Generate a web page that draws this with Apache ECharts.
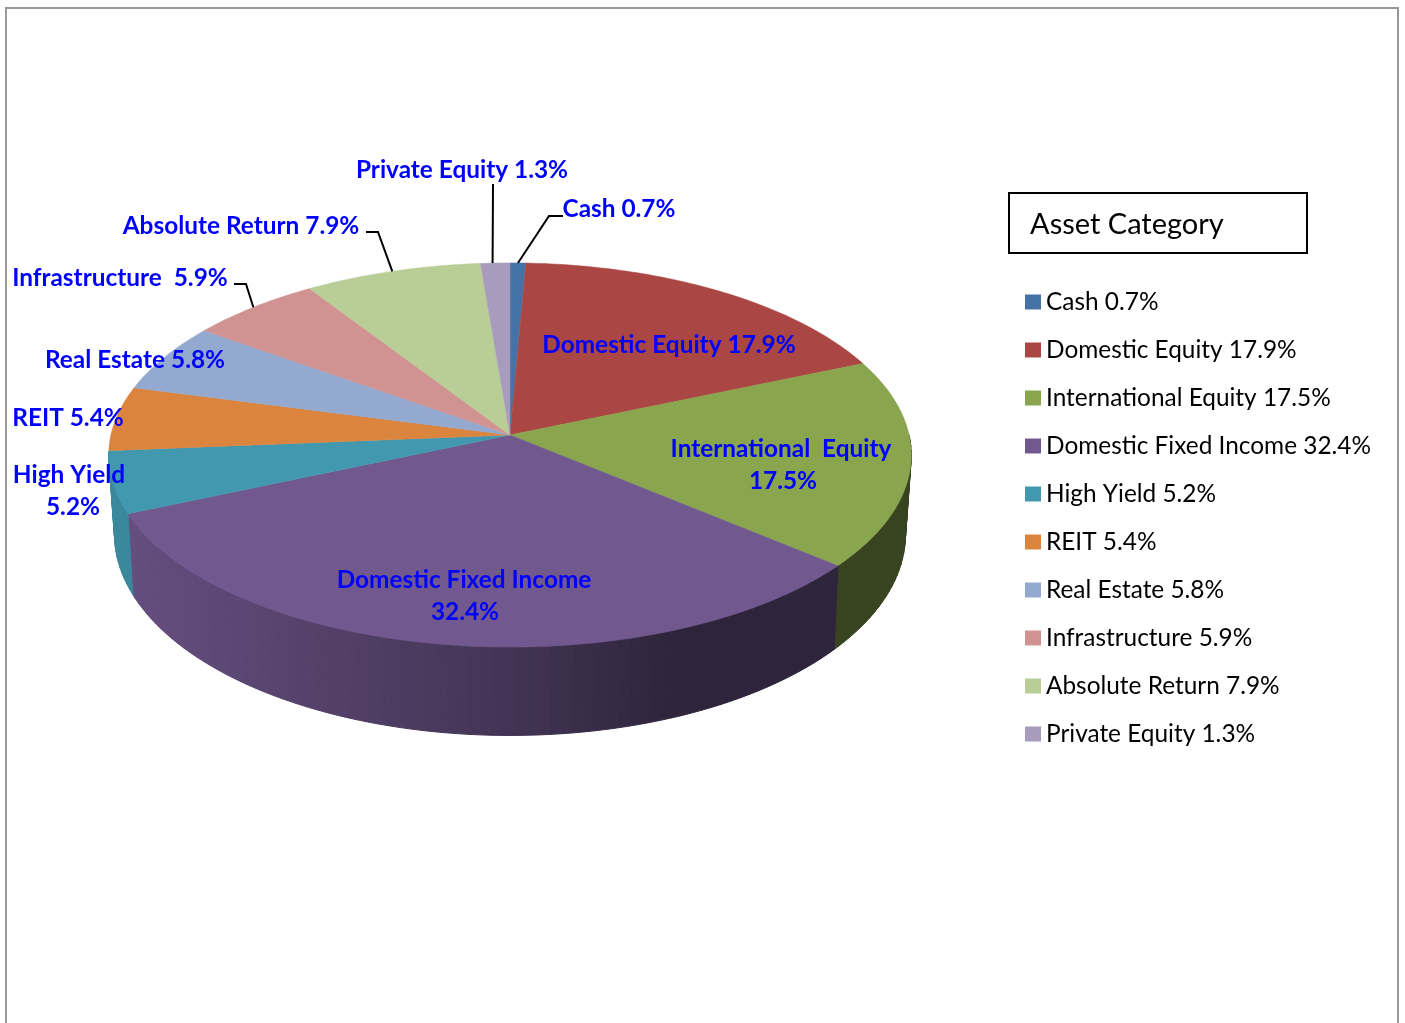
<!DOCTYPE html>
<html>
<head>
<meta charset="utf-8">
<style>
  html, body { margin: 0; padding: 0; background: #fff; overflow: hidden; }
  #chart { width: 1405px; height: 1023px; }
</style>
<script src="https://cdn.jsdelivr.net/npm/echarts@6/dist/echarts.min.js"></script>
</head>
<body>
<div id="chart"></div>
<script>
var categories = ['Cash', 'Domestic Equity', 'International Equity', 'Domestic Fixed Income', 'High Yield',
  'REIT', 'Real Estate', 'Infrastructure', 'Absolute Return', 'Private Equity'];
var shares = [0.7, 17.9, 17.5, 32.4, 5.2, 5.4, 5.8, 5.9, 7.9, 1.3];
var colors = ['#4572A7', '#AA4643', '#89A54E', '#71588F', '#4198AF',
  '#DB843D', '#93A9CF', '#D19392', '#B9CD96', '#A99BBD'];

// label placement in page pixels, one entry per category: text lines with their centres, plus leader elbow
var labelLayout = [
  { lines: [[null, 619, 209]], leader: [[563, 216], [549, 216]] },
  { lines: [[null, 669, 345]] },
  { lines: [['International  Equity', 781, 449], ['17.5%', 783, 481]] },
  { lines: [['Domestic Fixed Income', 464, 580], ['32.4%', 465, 612]] },
  { lines: [['High Yield', 69, 475], ['5.2%', 73, 507]] },
  { lines: [['REIT 5.4%', 68, 418]] },
  { lines: [[null, 135, 360]] },
  { lines: [['Infrastructure  5.9%', 120, 278]], leader: [[234, 284], [246, 284]] },
  { lines: [[null, 241, 226]], leader: [[366, 232], [378, 232]] },
  { lines: [[null, 462, 170]], leader: [[493, 184]], rimAt: 0.41 }
];

var LABEL_FONT = 'bold 24.4px Lato';

// perspective of the disc: top rim and bottom rim, in axis units
function topRim(deg) {
  var t = deg * Math.PI / 180, u = Math.sin(t), v = -Math.cos(t), w = 1 - 0.104 * v;
  return [u / w, v / w];
}
function bottomRim(deg) {
  var t = deg * Math.PI / 180, u = Math.sin(t), v = -Math.cos(t), w = 1 - 0.11 * v;
  return [0.985 * u / w, 0.405 + 1.047 * v / w];
}

function shade(hex, x) {
  // side wall gets darker from left to right
  var m = x < 0 ? 0.6 - 0.3 * x : Math.max(0.41, 0.6 - 0.45 * x);
  var n = parseInt(hex.slice(1), 16);
  return 'rgb(' + Math.round((n >> 16) * m) + ',' + Math.round(((n >> 8) & 255) * m) + ',' + Math.round((n & 255) * m) + ')';
}

var total = shares.reduce(function (a, b) { return a + b; }, 0);
var startAngles = [];
shares.reduce(function (sum, s, i) { startAngles[i] = sum / total * 360; return sum + s; }, 0);

function renderSlice(i, api) {
  var start = startAngles[i], end = start + shares[i] / total * 360;
  var children = [];

  // side wall, only the part that faces the viewer
  var from = Math.max(start, 90), to = Math.min(end, 265);
  for (var a = from; a < to; a += 1.5) {
    var b = Math.min(a + 1.5, to);
    var p = topRim(a);
    var color = shade(colors[i], p[0]);
    children.push({
      type: 'polygon', z2: 1, silent: true,
      shape: { points: [api.coord(topRim(a)), api.coord(topRim(b)), api.coord(bottomRim(b)), api.coord(bottomRim(a))] },
      style: { fill: color, stroke: color, lineWidth: 1 }
    });
  }

  // top face
  var pts = [api.coord([0, 0])];
  for (var d = start; d < end; d += 1) pts.push(api.coord(topRim(d)));
  pts.push(api.coord(topRim(end)));
  children.push({
    type: 'polygon', z2: 2,
    shape: { points: pts },
    style: { fill: colors[i], stroke: colors[i], lineWidth: 0.5 }
  });

  // leader line ends on the rim, by default at the middle of the slice
  var layout = labelLayout[i];
  if (layout.leader) {
    var rimAt = layout.rimAt === undefined ? 0.5 : layout.rimAt;
    children.push({
      type: 'polyline', z2: 3, silent: true,
      shape: { points: layout.leader.concat([api.coord(topRim(start + (end - start) * rimAt))]) },
      style: { fill: null, stroke: '#000', lineWidth: 2 }
    });
  }

  layout.lines.forEach(function (line) {
    children.push({
      type: 'text', z2: 4, silent: true,
      style: {
        text: line[0] || (categories[i] + ' ' + shares[i] + '%'),
        x: line[1], y: line[2],
        align: 'center', verticalAlign: 'middle',
        font: LABEL_FONT, fill: '#0000FF'
      }
    });
  });

  return { type: 'group', children: children };
}

var chart = echarts.init(document.getElementById('chart'), null, { renderer: 'canvas' });

chart.setOption({
  animation: false,
  backgroundColor: '#fff',
  grid: { left: 71, top: 245, width: 878, height: 570 },
  xAxis: { type: 'value', min: -1.1, max: 1.1, show: false },
  yAxis: { type: 'value', min: -1, max: 2, inverse: true, show: false },
  legend: {
    orient: 'vertical',
    left: 1025,
    top: 290,
    padding: 0,
    icon: 'rect',
    itemWidth: 16,
    itemHeight: 15,
    itemGap: 24,
    textStyle: { fontFamily: 'Lato', fontSize: 24.4, lineHeight: 24, color: '#000' },
    selectedMode: false
  },
  graphic: [
    { type: 'rect', z: 0, shape: { x: 6, y: 8, width: 1392, height: 1040 }, style: { fill: null, stroke: '#999', lineWidth: 2 } },
    { type: 'rect', shape: { x: 1009, y: 193, width: 298, height: 60 }, style: { fill: '#fff', stroke: '#000', lineWidth: 2 } },
    { type: 'text', style: { text: 'Asset Category', x: 1030, y: 225, verticalAlign: 'middle', font: '29px Lato', fill: '#000' } }
  ],
  series: categories.map(function (name, i) {
    return {
      type: 'custom',
      name: name + ' ' + shares[i] + '%',
      coordinateSystem: 'cartesian2d',
      itemStyle: { color: colors[i] },
      clip: false,
      data: [[0, shares[i]]],
      renderItem: function (params, api) { return renderSlice(i, api); }
    };
  })
});
</script>
</body>
</html>
